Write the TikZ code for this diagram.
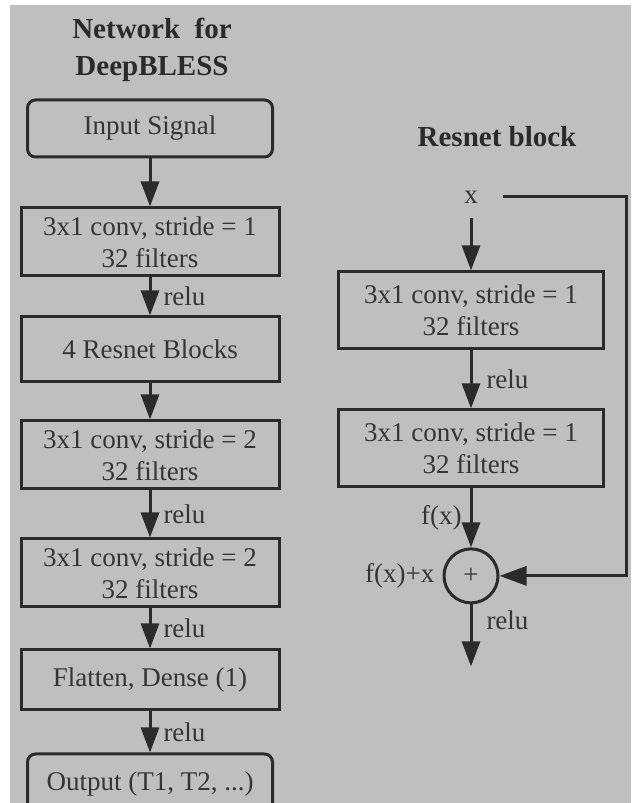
\documentclass[tikz,border=0pt]{standalone}
\usepackage{fontspec}
\setmainfont{Liberation Serif}
\usetikzlibrary{
  arrows.meta,
  positioning
}
\definecolor{dbBack}{HTML}{BFBFBF}
\definecolor{dbInk}{HTML}{2B2B2B}
\definecolor{dbText}{HTML}{353535}
\tikzset{
  layer/.style={
    draw=dbInk, line width=3pt, minimum width=258pt, minimum height=68pt,
    inner sep=2pt, align=center, text=dbText, font=\fontsize{27}{32}\selectfont
  },
  endbox/.style={layer, rounded corners=8pt, minimum width=245pt, minimum height=57pt},
  resbox/.style={layer, minimum width=265pt, minimum height=77pt},
  addnode/.style={circle, draw=dbInk, line width=3pt, minimum size=54pt, inner sep=0pt,
    text=dbText, font=\fontsize{27}{32}\selectfont},
  flow/.style={-{Triangle[length=25pt, width=18pt]}, line width=3pt, draw=dbInk},
  skip/.style={-{Triangle[length=27pt, width=19pt]}, line width=3pt, draw=dbInk},
  lbl/.style={text=dbText, inner sep=2pt, font=\fontsize{27}{32}\selectfont},
  heading/.style={text=dbInk, align=center, font=\bfseries\fontsize{29}{37}\selectfont}
}
\begin{document}
\begin{tikzpicture}[x=1pt, y=1pt]
  \useasboundingbox (0,0) rectangle (633,803);
  \fill[dbBack] (10,0) rectangle (631,798);

  % main network
  \node[heading] (nettitle) at (152,753) {Network\ \ for\\DeepBLESS};
  \node[endbox] (inp) at (150,674.5) {Input Signal};
  \node[layer, below=48pt of inp] (conv1) {3x1 conv, stride = 1\\32 filters};
  \node[layer, below=38pt of conv1, minimum height=65pt] (blocks) {4 Resnet Blocks};
  \node[layer, below=36pt of blocks] (conv2) {3x1 conv, stride = 2\\32 filters};
  \node[layer, below=47pt of conv2] (conv3) {3x1 conv, stride = 2\\32 filters};
  \node[layer, below=40pt of conv3, minimum height=60pt] (dense) {Flatten, Dense (1)};
  \node[endbox, below=41pt of dense, minimum height=60pt] (out) {Output (T1, T2, ...)};

  \draw[flow] (inp) -- (conv1);
  \draw[flow] (conv1) -- node[lbl, right=10pt]{relu} (blocks);
  \draw[flow] (blocks) -- (conv2);
  \draw[flow] (conv2) -- node[lbl, right=10pt]{relu} (conv3);
  \draw[flow] (conv3) -- node[lbl, right=10pt]{relu} (dense);
  \draw[flow] (dense) -- node[lbl, right=10pt]{relu} (out);

  % resnet block
  \node[heading] (restitle) at (497,666) {Resnet block};
  \node[lbl, inner xsep=25pt, inner ysep=15pt] (xin) at (471,606) {x};
  \node[resbox, below=52pt of xin] (res1) {3x1 conv, stride = 1\\32 filters};
  \node[resbox, below=58pt of res1] (res2) {3x1 conv, stride = 1\\32 filters};
  \node[addnode, below=59pt of res2] (add) {+};
  \node[lbl, left=6pt of add] (sumlbl) {f(x)+x};
  \coordinate[below=62pt of add] (resout);

  \draw[flow] (xin) -- (res1);
  \draw[flow] (res1) -- node[lbl, right=12pt]{relu} (res2);
  \draw[flow] (res2) -- node[lbl, left=6pt]{f(x)} (add);
  \draw[flow] (add) -- node[lbl, right=12pt, pos=0.25]{relu} (resout);
  \draw[skip] (xin.east) -- ++(124pt,0) |- (add);
\end{tikzpicture}
\end{document}
